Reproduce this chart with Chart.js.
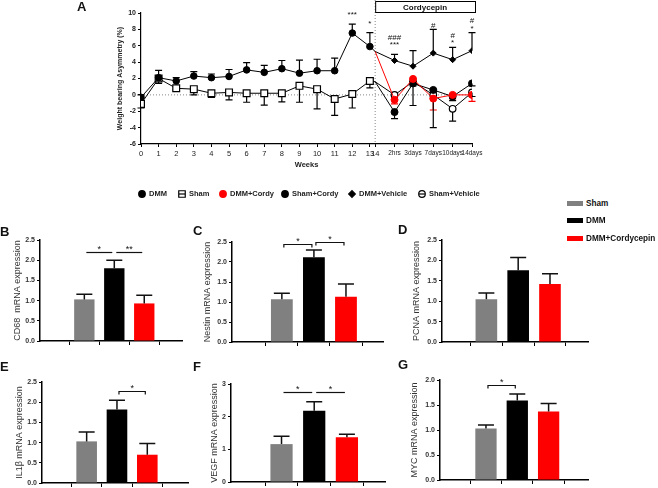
<!DOCTYPE html>
<html>
<head>
<meta charset="utf-8">
<script src="https://cdn.jsdelivr.net/npm/chart.js@4.4.1/dist/chart.umd.min.js"></script>
<style>
  body { margin: 0; background: #fff; }
  #fig { position: relative; width: 658px; height: 488px; overflow: hidden; background: #fff;
         font-family: 'Liberation Sans', Arial, sans-serif; color: #111; }
  #fig canvas { position: absolute; }
  .lbl { position: absolute; font-weight: bold; font-size: 13px; line-height: 16px; }
  .key { position: absolute; left: 567px; font-size: 8.2px; font-weight: bold; line-height: 10px; white-space: nowrap; }
  .sw { display: inline-block; width: 16px; height: 5px; margin-right: 3px; vertical-align: middle; }
</style>
</head>
<body>
<div id="fig">
  <canvas id="chartA" width="430" height="205" style="left:60px;top:0px"></canvas>
  <canvas id="chartB"></canvas>
  <canvas id="chartC"></canvas>
  <canvas id="chartD"></canvas>
  <canvas id="chartE"></canvas>
  <canvas id="chartF"></canvas>
  <canvas id="chartG"></canvas>

  <div class="lbl" style="left:77px;top:-1px">A</div>
  <div class="lbl" style="left:0px;top:224px">B</div>
  <div class="lbl" style="left:193px;top:223px">C</div>
  <div class="lbl" style="left:398px;top:222px">D</div>
  <div class="lbl" style="left:0px;top:359px">E</div>
  <div class="lbl" style="left:193px;top:359px">F</div>
  <div class="lbl" style="left:398px;top:357px">G</div>

  <div class="key" style="top:199px"><span class="sw" style="background:#808080"></span>Sham</div>
  <div class="key" style="top:216px"><span class="sw" style="background:#000"></span>DMM</div>
  <div class="key" style="top:234px"><span class="sw" style="background:#ff0000"></span>DMM+Cordycepin</div>
</div>

<script>
Chart.defaults.font.family = "'Liberation Sans', Arial, sans-serif";
Chart.defaults.color = '#222';
Chart.defaults.animation = false;

// ---- panel A data ----
const weekLabels = ['0', '1', '2', '3', '4', '5', '6', '7', '8', '9', '10', '11', '12', '13', '14',
                    '2hrs', '3days', '7days', '10days', '14days'];
const weekPos = [0, 1, 2, 3, 4, 5, 6, 7, 8, 9, 10, 11, 12, 13, 13.3, 14.4, 15.45, 16.6, 17.7, 18.8];

const dmm      = [-0.3, 2.1, 1.7, 2.3, 2.1, 2.25, 3.05, 2.75, 3.2, 2.65, 2.95, 2.95, 7.55, 5.9, 5.3];
const dmmErr   = [0.3, 0.9, 0.4, 0.55, 0.45, 0.85, 0.9, 0.85, 1.0, 1.6, 1.4, 1.55, 1.1, 1.7, 0];
const sham     = [-1.1, 2.0, 0.8, 0.7, 0.2, 0.3, 0.2, 0.2, 0.2, 1.1, 0.7, -0.5, 0.1, 1.7, 1.6];
const shamErr  = [0.5, 0.6, 0.2, 0.7, 0.5, 0.9, 1.1, 1.45, 1.05, 2.0, 2.4, 2.0, 1.7, 0.85, 0];

// from "14" onwards
const dmmCordy     = [5.3, -0.6, 1.95, -0.45, 0.0, 0.0];
const dmmCordyErr  = [0, 0.5, 0.6, 1.4, 0.5, 0.8];
const shamCordy    = [1.6, -2.1, 1.4, 0.6, -0.2, 1.4];
const shamCordyErr = [0, 0.8, 2.7, 0.3, 0.5, 0.3];
const dmmVeh       = [5.3, 4.2, 3.5, 5.1, 4.3, 5.4];
const dmmVehErr    = [0, 0.75, 1.9, 2.9, 1.5, 2.2];
const shamVeh      = [1.6, 0.0, 1.6, 0.0, -1.7, 0.3];
const shamVehErr   = [0, 0.3, 0.5, 4.0, 1.5, 0.5];

const sigA = [
    ['12', '***', 9.9], ['13', '*', 8.8],
    ['2hrs', '###', 7.1], ['2hrs', '***', 6.2],
    ['7days', '#', 8.5],
    ['10days', '#', 7.3], ['10days', '*', 6.5],
    ['14days', '#', 9.15], ['14days', '*', 8.2]
];

// ---- bar panels data ----
const groups = ['Sham', 'DMM', 'DMM+Cordycepin'];
const barColors = ['#808080', '#000000', '#ff0000'];

const cd68Mean = [1.03, 1.8, 0.93],   cd68Sem = [0.13, 0.2, 0.2];
const nestinMean = [1.07, 2.12, 1.13], nestinSem = [0.15, 0.18, 0.32];
const pcnaMean = [1.05, 1.76, 1.42],   pcnaSem = [0.15, 0.31, 0.25];
const il1bMean = [1.03, 1.82, 0.70],   il1bSem = [0.23, 0.23, 0.28];
const vegfMean = [1.16, 2.18, 1.37],   vegfSem = [0.24, 0.28, 0.09];
const mycMean = [1.03, 1.59, 1.37],    mycSem = [0.07, 0.13, 0.16];

// [from group, to group, height, text]
const cd68Sig = [[0, 1, 2.2, '*'], [1, 2, 2.2, '**']];
const nestinSig = [[0, 1, 2.45, '*'], [1, 2, 2.5, '*']];
const il1bSig = [[1, 2, 2.28, '*']];
const vegfSig = [[0, 1, 2.75, '*'], [1, 2, 2.75, '*']];
const mycSig = [[0, 1, 1.9, '*']];

function series(xs, ys) {
    return ys.map((y, i) => ({ x: xs[i], y: y }));
}

const joinPos = weekPos[weekLabels.indexOf('14')];
const hideJoin = r => c => (c.raw && c.raw.x === joinPos) ? 0 : r;

const errorBarsA = {
    id: 'errorBarsA',
    beforeDatasetsDraw(chart) {
        const ctx = chart.ctx;
        const y = chart.scales.y;
        chart.data.datasets.forEach((ds, i) => {
            const meta = chart.getDatasetMeta(i);
            ctx.save();
            ctx.strokeStyle = ds.borderColor;
            ctx.lineWidth = 1.2;
            meta.data.forEach((pt, j) => {
                const e = ds.errors[j];
                if (!e) return;
                const yEnd = y.getPixelForValue(ds.data[j].y + ds.errDir * e);
                ctx.beginPath();
                ctx.moveTo(pt.x, pt.y);
                ctx.lineTo(pt.x, yEnd);
                ctx.moveTo(pt.x - 3.5, yEnd);
                ctx.lineTo(pt.x + 3.5, yEnd);
                ctx.stroke();
            });
            ctx.restore();
        });
    }
};

// marker x of each legend entry, in canvas pixels
const legendSlots = [82, 122, 163, 225, 292, 362];

const decorA = {
    id: 'decorA',
    beforeDatasetsDraw(chart) {
        const ctx = chart.ctx;
        const area = chart.chartArea;
        const x = chart.scales.x, y = chart.scales.y;
        ctx.save();
        ctx.strokeStyle = '#888';
        ctx.lineWidth = 1;
        ctx.setLineDash([1, 2]);
        const y0 = y.getPixelForValue(0);
        ctx.beginPath();
        ctx.moveTo(area.left, y0);
        ctx.lineTo(area.right, y0);
        const xj = x.getPixelForValue(joinPos);
        ctx.moveTo(xj, 0);
        ctx.lineTo(xj, area.bottom);
        ctx.stroke();
        ctx.restore();
    },
    afterDraw(chart) {
        const ctx = chart.ctx;
        const area = chart.chartArea;
        const x = chart.scales.x, y = chart.scales.y;
        ctx.save();
        const xj = x.getPixelForValue(joinPos);
        ctx.strokeStyle = '#000';
        ctx.lineWidth = 1;
        ctx.strokeRect(xj + 0.5, 1.5, area.right + 3 - xj, 11);
        ctx.fillStyle = '#111';
        ctx.font = "bold 8px 'Liberation Sans', Arial, sans-serif";
        ctx.textAlign = 'center';
        ctx.textBaseline = 'middle';
        ctx.fillText('Cordycepin', (xj + area.right + 3) / 2, 7.5);
        ctx.font = "8px 'Liberation Sans', Arial, sans-serif";
        sigA.forEach(s => {
            const px = x.getPixelForValue(weekPos[weekLabels.indexOf(s[0])]);
            ctx.fillText(s[1], px, y.getPixelForValue(s[2]) + 1);
        });

        // legend row
        const ly = 194;
        ctx.font = "bold 7.5px 'Liberation Sans', Arial, sans-serif";
        ctx.textAlign = 'left';
        chart.data.datasets.forEach((ds, i) => {
            const mx = legendSlots[i];
            ctx.fillStyle = ds.pointBackgroundColor;
            ctx.strokeStyle = ds.pointBorderColor;
            ctx.lineWidth = 1.2;
            const r = ds.pointStyle === 'rect' ? 4.6 : 3.3;
            Chart.helpers.drawPoint(ctx, { pointStyle: ds.pointStyle, radius: r, borderWidth: 1.2, rotation: 0 }, mx, ly);
            if (ds.pointBackgroundColor === '#fff') {
                ctx.beginPath();
                ctx.moveTo(mx - 3, ly);
                ctx.lineTo(mx + 3, ly);
                ctx.stroke();
            }
            ctx.fillStyle = '#222';
            ctx.fillText(ds.label, mx + 7, ly);
        });
        ctx.restore();
    }
};

new Chart(document.getElementById('chartA'), {
    type: 'line',
    data: {
        datasets: [
            {
                label: 'DMM', data: series(weekPos.slice(0, 15), dmm),
                errors: dmmErr, errDir: 1,
                borderColor: '#000', borderWidth: 1, pointStyle: 'circle',
                pointBackgroundColor: '#000', pointBorderColor: '#000', pointRadius: hideJoin(3.3)
            },
            {
                label: 'Sham', data: series(weekPos.slice(0, 15), sham),
                errors: shamErr, errDir: -1,
                borderColor: '#000', borderWidth: 1, pointStyle: 'rect',
                pointBackgroundColor: '#fff', pointBorderColor: '#000', pointBorderWidth: 1.2,
                pointRadius: hideJoin(4.8)
            },
            {
                label: 'DMM+Cordy', data: series(weekPos.slice(14), dmmCordy),
                errors: dmmCordyErr, errDir: -1,
                borderColor: '#ff0000', borderWidth: 1, pointStyle: 'circle',
                pointBackgroundColor: '#ff0000', pointBorderColor: '#ff0000', pointRadius: hideJoin(3.5)
            },
            {
                label: 'Sham+Cordy', data: series(weekPos.slice(14), shamCordy),
                errors: shamCordyErr, errDir: -1,
                borderColor: '#000', borderWidth: 1, pointStyle: 'circle',
                pointBackgroundColor: '#000', pointBorderColor: '#000', pointRadius: hideJoin(3.5)
            },
            {
                label: 'DMM+Vehicle', data: series(weekPos.slice(14), dmmVeh),
                errors: dmmVehErr, errDir: 1,
                borderColor: '#000', borderWidth: 1, pointStyle: 'rectRot',
                pointBackgroundColor: '#000', pointBorderColor: '#000', pointRadius: hideJoin(3)
            },
            {
                label: 'Sham+Vehicle', data: series(weekPos.slice(14), shamVeh),
                errors: shamVehErr, errDir: -1,
                borderColor: '#000', borderWidth: 1, pointStyle: 'circle',
                pointBackgroundColor: '#fff', pointBorderColor: '#000', pointBorderWidth: 1.2,
                pointRadius: hideJoin(3.3)
            }
        ]
    },
    options: {
        responsive: false,
        animation: false,
        layout: { padding: { left: 50, top: 13, right: 18, bottom: 25 } },
        plugins: {
            tooltip: { enabled: false },
            legend: { display: false }
        },
        scales: {
            x: {
                type: 'linear',
                min: 0,
                max: weekPos[weekPos.length - 1],
                afterBuildTicks: axis => { axis.ticks = weekPos.map(v => ({ value: v })); },
                afterFit: axis => { axis.height = 36; },
                ticks: {
                    autoSkip: false, maxRotation: 0, padding: 2, color: '#222',
                    font: c => ({ size: c.index > 14 ? 6.5 : 7.5 }),
                    callback: v => weekLabels[weekPos.indexOf(v)]
                },
                grid: { drawOnChartArea: false, tickLength: 3, color: '#000' },
                border: { color: '#000', width: 1.2 },
                title: {
                    display: true, text: 'Weeks', color: '#222',
                    font: { size: 7.5, weight: 'bold' }, padding: { top: 0, bottom: 10.5 }
                }
            },
            y: {
                min: -6,
                max: 10,
                afterFit: axis => { axis.width = 31; },
                ticks: { stepSize: 2, padding: 2, color: '#222', font: { size: 7, weight: 'bold' } },
                grid: { drawOnChartArea: false, tickLength: 3, color: '#000' },
                border: { color: '#000', width: 1.2 },
                title: {
                    display: true, text: 'Weight bearing Asymmetry (%)', color: '#222',
                    font: { size: 7, weight: 'bold' }, padding: { top: 5.8, bottom: 0 }
                }
            }
        }
    },
    plugins: [decorA, errorBarsA]
});

// ---- bar panels ----
const barExtras = {
    id: 'barExtras',
    afterDatasetsDraw(chart) {
        const ctx = chart.ctx;
        const x = chart.scales.x, y = chart.scales.y;
        const ds = chart.data.datasets[0];
        const meta = chart.getDatasetMeta(0);
        ctx.save();
        ctx.strokeStyle = '#111';
        ctx.lineWidth = 1.5;
        meta.data.forEach((bar, i) => {
            const yEnd = y.getPixelForValue(ds.data[i].y + ds.sem[i]);
            ctx.beginPath();
            ctx.moveTo(bar.x, bar.y);
            ctx.lineTo(bar.x, yEnd);
            ctx.moveTo(bar.x - 8, yEnd);
            ctx.lineTo(bar.x + 8, yEnd);
            ctx.stroke();
        });
        ctx.lineWidth = 1.2;
        ctx.fillStyle = '#111';
        ctx.font = "9px 'Liberation Sans', Arial, sans-serif";
        ctx.textAlign = 'center';
        ctx.textBaseline = 'alphabetic';
        (ds.sig || []).forEach(s => {
            const x1 = x.getPixelForValue(s[0]) + 2;
            const x2 = x.getPixelForValue(s[1]) - 2;
            const py = Math.round(y.getPixelForValue(s[2])) + 0.5;
            const drop = ds.drop;
            ctx.beginPath();
            ctx.moveTo(x1, py + drop);
            ctx.lineTo(x1, py);
            ctx.lineTo(x2, py);
            ctx.lineTo(x2, py + drop);
            ctx.stroke();
            ctx.fillText(s[3], (x1 + x2) / 2, py - 1);
        });
        ctx.restore();
    }
};

function barChart(id, mean, sem, sig, title, frame) {
    const canvas = document.getElementById(id);
    const padTop = 12;
    const w = frame.axisEnd - frame.axisX + 40 + 6;
    const h = frame.y0 - frame.yTop + padTop + 8 + 2;
    canvas.width = w;
    canvas.height = h;
    canvas.style.left = (frame.axisX - 40) + 'px';
    canvas.style.top = (frame.yTop - padTop) + 'px';

    new Chart(canvas, {
        type: 'bar',
        data: {
            datasets: [{
                label: title,
                data: mean.map((m, i) => ({ x: i, y: m })),
                sem: sem,
                sig: sig,
                drop: frame.drop,
                backgroundColor: barColors,
                borderWidth: 0,
                barPercentage: 0.85,
                categoryPercentage: 0.8
            }]
        },
        options: {
            responsive: false,
            animation: false,
            layout: { padding: { top: padTop, right: 6, bottom: 2, left: 0 } },
            plugins: { legend: { display: false }, tooltip: { enabled: false } },
            scales: {
                x: {
                    type: 'linear',
                    min: frame.min,
                    max: frame.max,
                    afterBuildTicks: axis => { axis.ticks = groups.map((g, i) => ({ value: i })); },
                    afterFit: axis => { axis.height = 8; },
                    ticks: { callback: () => '' },
                    grid: { drawOnChartArea: false, tickLength: 4, color: '#000' },
                    border: { color: '#000', width: 1.5 }
                },
                y: {
                    min: 0,
                    max: frame.yMax,
                    afterFit: axis => { axis.width = 40; },
                    ticks: {
                        stepSize: frame.step, padding: 2, color: '#333',
                        font: { size: 7, weight: 'bold' },
                        callback: v => frame.step < 1 ? v.toFixed(1) : String(v)
                    },
                    grid: { drawOnChartArea: false, tickLength: 3, color: '#000' },
                    border: { color: '#000', width: 1.5 },
                    title: {
                        display: true, text: title, color: '#333',
                        font: { size: 9 },
                        padding: { top: frame.titleX - (frame.axisX - 40) - 5.4, bottom: 0 }
                    }
                }
            }
        },
        plugins: [barExtras]
    });
}

barChart('chartB', cd68Mean, cd68Sem, cd68Sig, 'CD68  mRNA expression',
    { axisX: 40, axisEnd: 182, yTop: 240, y0: 341, min: -0.69, max: 2.47, yMax: 2.5, step: 0.5, titleX: 18, drop: 0 });
barChart('chartC', nestinMean, nestinSem, nestinSig, 'Nestin mRNA expression',
    { axisX: 232, axisEnd: 383, yTop: 242, y0: 342, min: -0.77, max: 2.37, yMax: 2.5, step: 0.5, titleX: 208, drop: 3 });
barChart('chartD', pcnaMean, pcnaSem, [], 'PCNA mRNA expression',
    { axisX: 442, axisEnd: 588, yTop: 240, y0: 342, min: -0.63, max: 2.43, yMax: 2.5, step: 0.5, titleX: 417, drop: 0 });
barChart('chartE', il1bMean, il1bSem, il1bSig, 'IL1β mRNA expression',
    { axisX: 42, axisEnd: 188, yTop: 382, y0: 483, min: -0.67, max: 2.54, yMax: 2.5, step: 0.5, titleX: 20, drop: 3 });
barChart('chartF', vegfMean, vegfSem, vegfSig, 'VEGF mRNA expression',
    { axisX: 231, axisEnd: 385, yTop: 384, y0: 482, min: -0.76, max: 2.38, yMax: 3, step: 1, titleX: 215, drop: 0 });
barChart('chartG', mycMean, mycSem, mycSig, 'MYC mRNA expression',
    { axisX: 440, axisEnd: 588, yTop: 380, y0: 480, min: -0.68, max: 2.47, yMax: 2.0, step: 0.5, titleX: 415, drop: 3 });
</script>
</body>
</html>
